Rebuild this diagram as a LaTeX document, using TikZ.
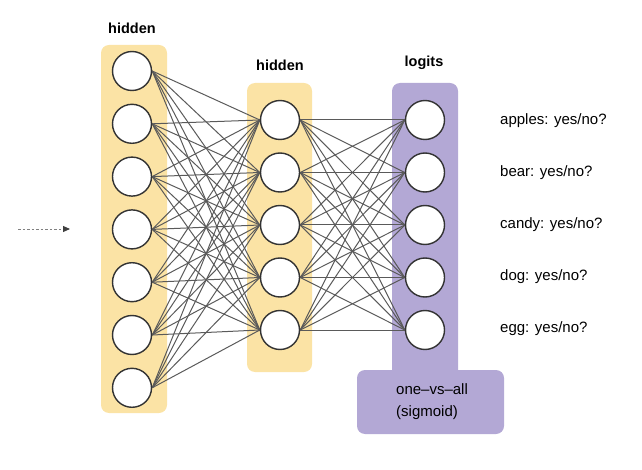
\documentclass[tikz,border=0pt]{standalone}
\usepackage{fontspec}
\setmainfont{Liberation Sans}
\usetikzlibrary{arrows.meta}
\definecolor{layyellow}{HTML}{FBE3A5}
\definecolor{laypurple}{HTML}{B3A8D5}
\definecolor{edgegray}{HTML}{5A5A5A}
\definecolor{ringgray}{HTML}{333333}
\begin{document}
\begin{tikzpicture}[x=1pt,y=-1pt,
  neuron/.style={circle,draw=ringgray,fill=white,line width=1.4pt,minimum size=39pt,inner sep=0pt},
  edge/.style={draw=edgegray,line width=1pt},
  headlabel/.style={font=\fontsize{14.5}{17}\selectfont\bfseries,text=black},
  outlabel/.style={font=\fontsize{15}{18}\selectfont,anchor=west,text=black,inner sep=0pt},
  layerbox/.style={rounded corners=8pt}]
\useasboundingbox (0,0) rectangle (642,470);
% layer backgrounds
\fill[layyellow,layerbox] (101,45) rectangle (167,413);
\fill[layyellow,layerbox] (247,83) rectangle (312,372);
\fill[laypurple,layerbox] (392,83) rectangle (458,385);
\fill[laypurple,layerbox] (357,370) rectangle (504,434);
% neuron positions
\foreach \i in {1,...,7} {
  \coordinate (pa\i) at (132,{71+52.8*(\i-1)});
}
\foreach \i in {1,...,5} {
  \coordinate (pb\i) at (280,{120+52.5*(\i-1)});
  \coordinate (pc\i) at (425,{120+52.5*(\i-1)});
}
% invisible neuron nodes for anchors
\foreach \i in {1,...,7} {
  \node[neuron,draw=none,fill=none] (a\i) at (pa\i) {};
}
\foreach \i in {1,...,5} {
  \node[neuron,draw=none,fill=none] (b\i) at (pb\i) {};
  \node[neuron,draw=none,fill=none] (c\i) at (pc\i) {};
}
% edges
\foreach \i in {1,...,7} {
  \foreach \j in {1,...,5} {
    \draw[edge] (a\i.east) -- (b\j.west);
  }
}
\foreach \i in {1,...,5} {
  \foreach \j in {1,...,5} {
    \draw[edge] (b\i.east) -- (c\j.west);
  }
}
% neurons on top
\foreach \i in {1,...,7} {
  \node[neuron] (na\i) at (pa\i) {};
}
\foreach \i in {1,...,5} {
  \node[neuron] (nb\i) at (pb\i) {};
  \node[neuron] (nc\i) at (pc\i) {};
}
% headings
\node[headlabel] (h1) at (132,28) {hidden};
\node[headlabel] (h2) at (280,65) {hidden};
\node[headlabel] (h3) at (424,63) {logits};
% output labels
\node[outlabel] (o1) at (500,121) {apples: yes/no?};
\node[outlabel] (o2) at (500,173) {bear: yes/no?};
\node[outlabel] (o3) at (500,225) {candy: yes/no?};
\node[outlabel] (o4) at (500,277) {dog: yes/no?};
\node[outlabel] (o5) at (500,329) {egg: yes/no?};
% sigmoid label
\node[font=\fontsize{15}{22}\selectfont,align=left,anchor=north west,inner sep=0pt] (sig) at (396,383) {one--vs--all\\(sigmoid)};
% input arrow
\coordinate (inS) at (18,229);
\coordinate (inE) at (70,229);
\draw[gray,line width=0.9pt,dash pattern=on 2.5pt off 2pt,-{Triangle[length=7pt,width=6pt,color=darkgray]}] (inS) -- (inE);
\end{tikzpicture}
\end{document}
